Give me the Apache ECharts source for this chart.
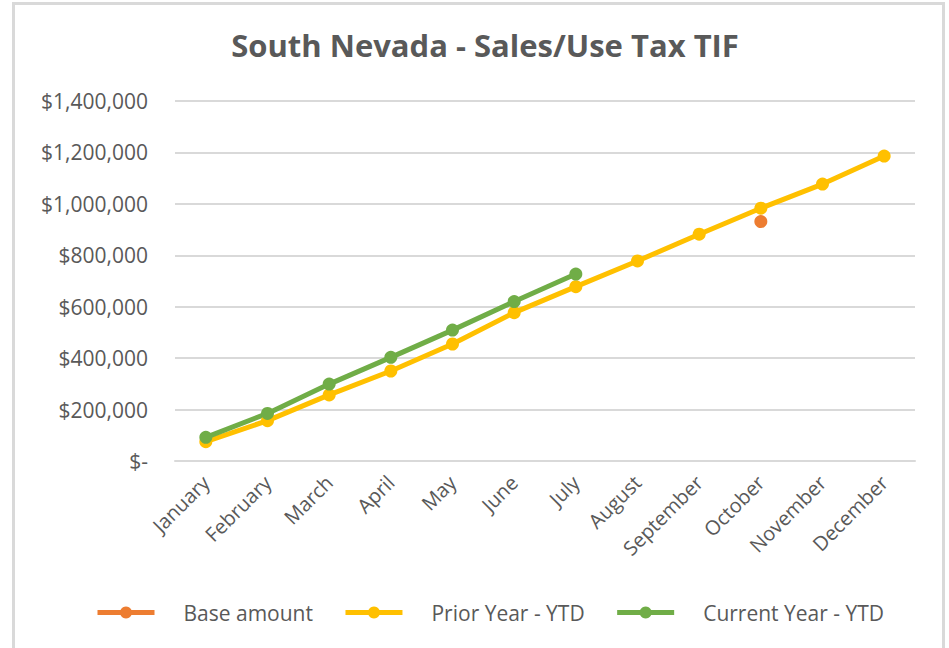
<!DOCTYPE html>
<html>
<head>
<meta charset="utf-8">
<script src="https://cdn.jsdelivr.net/npm/echarts@6/dist/echarts.min.js"></script>
<style>
  html, body { margin: 0; padding: 0; background: #fff; }
  #frame { position: absolute; left: 12px; top: 2px; width: 933px; height: 700px; border: 3px solid #d9d9d9; box-sizing: border-box; }
  #chart { position: absolute; left: 0; top: 0; width: 949px; height: 648px; }
</style>
</head>
<body>
<div id="frame"></div>
<div id="chart"></div>
<script>
var months = ['January', 'February', 'March', 'April', 'May', 'June', 'July', 'August', 'September', 'October', 'November', 'December'];
var baseAmount = [null, null, null, null, null, null, null, null, null, 931000, null, null];
var priorYTD = [75000, 157000, 257000, 350000, 455000, 577000, 678000, 778000, 882000, 983000, 1077000, 1186000];
var currentYTD = [92000, 185000, 299000, 403000, 509000, 620000, 727000, null, null, null, null, null];

(function() {
  var ink = '#595959';
  var font = '"Open Sans", sans-serif';

  var chart = echarts.init(document.getElementById('chart'), null, { renderer: 'svg' });

  function money(v) {
    if (v === 0) return '$-';
    return '$' + v.toLocaleString('en-US');
  }

  function lineSeries(name, data, color) {
    return {
      name: name,
      type: 'line',
      data: data,
      symbol: 'circle',
      symbolSize: 13,
      connectNulls: false,
      lineStyle: { color: color, width: 5 },
      itemStyle: { color: color }
    };
  }

  chart.setOption({
    animation: false,
    backgroundColor: 'transparent',
    title: {
      text: 'South Nevada - Sales/Use Tax TIF',
      left: 480,
      top: 24,
      textAlign: 'center',
      textStyle: { color: ink, fontSize: 31, fontWeight: 'bold', fontFamily: font }
    },
    legend: {
      left: 90,
      top: 597,
      itemWidth: 57,
      itemHeight: 15,
      itemGap: 30,
      lineStyle: { width: 5 },
      textStyle: { color: ink, fontSize: 21, fontFamily: font, padding: [0, 0, 0, 24] },
      data: ['Base amount', 'Prior Year - YTD', 'Current Year - YTD']
    },
    grid: { left: 175, right: 34, top: 101, bottom: 187 },
    xAxis: {
      type: 'category',
      data: months,
      boundaryGap: true,
      axisLine: { show: true, lineStyle: { color: '#d9d9d9', width: 2 } },
      axisTick: { show: false },
      axisLabel: { color: ink, fontSize: 20, fontFamily: font, rotate: 45, margin: 18, interval: 0 }
    },
    yAxis: {
      type: 'value',
      min: 0,
      max: 1400000,
      interval: 200000,
      axisLine: { show: false },
      axisTick: { show: false },
      splitLine: { lineStyle: { color: '#d9d9d9', width: 2 } },
      axisLabel: { color: ink, fontSize: 21, fontFamily: font, margin: 27, formatter: money }
    },
    series: [
      lineSeries('Base amount', baseAmount, '#ED7D31'),
      lineSeries('Prior Year - YTD', priorYTD, '#FFC000'),
      lineSeries('Current Year - YTD', currentYTD, '#70AD47')
    ]
  });
  window.addEventListener('resize', function() { chart.resize(); });
})();
</script>
</body>
</html>
